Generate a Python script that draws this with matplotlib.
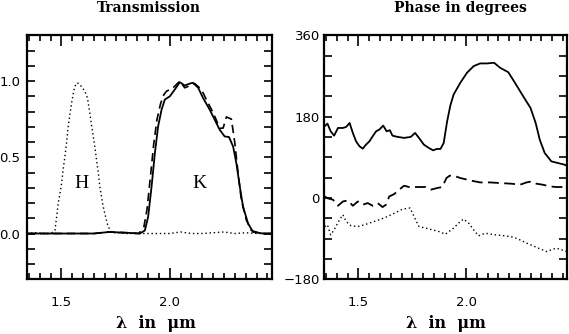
import numpy as np
import matplotlib.pyplot as plt
from matplotlib.ticker import MultipleLocator

# --- transmission (left panel) ---
h_wl = [1.34, 1.38, 1.42, 1.45, 1.470, 1.478, 1.485, 1.493, 1.501, 1.508, 1.516, 1.524, 1.531,
        1.539, 1.547, 1.555, 1.562, 1.573, 1.585, 1.597, 1.608, 1.620, 1.631, 1.639, 1.647,
        1.655, 1.662, 1.670, 1.677, 1.685, 1.693, 1.711, 1.727, 1.75, 1.80, 1.85, 1.90,
        1.95, 2.00, 2.05, 2.10, 2.15, 2.20, 2.25, 2.30, 2.35, 2.40, 2.47]
h_tr = [0.0, 0.005, 0.0, 0.0, 0.02, 0.11, 0.198, 0.26, 0.33, 0.42, 0.505, 0.60, 0.70,
        0.78, 0.857, 0.92, 0.966, 0.989, 0.978, 0.955, 0.934, 0.89, 0.79, 0.71, 0.637,
        0.56, 0.483, 0.40, 0.307, 0.24, 0.175, 0.066, 0.01, 0.005, 0.0, 0.0, 0.0,
        0.0, 0.0, 0.01, 0.0, 0.0, 0.005, 0.01, 0.0, 0.005, 0.0, 0.0]

k1_wl = [1.34, 1.50, 1.65, 1.72, 1.80, 1.862, 1.885, 1.900, 1.916, 1.931, 1.946, 1.962, 1.977,
         2.000, 2.023, 2.046, 2.069, 2.092, 2.107, 2.131, 2.153, 2.184, 2.207, 2.230, 2.253,
         2.273, 2.292, 2.307, 2.323, 2.338, 2.361, 2.384, 2.43, 2.47]
k1_tr = [0.0, 0.0, 0.0, 0.01, 0.005, 0.0, 0.02, 0.11, 0.31, 0.527, 0.703, 0.813, 0.879,
         0.90, 0.945, 0.993, 0.971, 0.984, 0.989, 0.956, 0.89, 0.813, 0.747, 0.681, 0.637,
         0.633, 0.571, 0.461, 0.307, 0.175, 0.066, 0.01, 0.0, 0.0]

k2_wl = [1.34, 1.50, 1.65, 1.72, 1.80, 1.857, 1.880, 1.895, 1.911, 1.926, 1.941, 1.957, 1.972,
         1.985, 2.015, 2.046, 2.069, 2.092, 2.115, 2.146, 2.168, 2.19, 2.21, 2.23, 2.246,
         2.261, 2.284, 2.300, 2.315, 2.330, 2.353, 2.376, 2.42, 2.47]
k2_tr = [0.0, 0.0, 0.0, 0.01, 0.005, 0.0, 0.04, 0.16, 0.38, 0.59, 0.75, 0.85, 0.91,
         0.934, 0.956, 1.0, 0.956, 0.97, 0.984, 0.945, 0.88, 0.82, 0.76, 0.69, 0.692,
         0.765, 0.751, 0.593, 0.395, 0.22, 0.088, 0.02, 0.0, 0.0]

# --- phase (right panel) ---
p1_wl = [1.343, 1.356, 1.371, 1.387, 1.405, 1.428, 1.443, 1.459, 1.474, 1.489, 1.505, 1.520,
         1.535, 1.551, 1.566, 1.582, 1.597, 1.615, 1.631, 1.646, 1.658, 1.682, 1.712, 1.743,
         1.763, 1.781, 1.804, 1.827, 1.847, 1.863, 1.881, 1.896, 1.912, 1.927, 1.942, 1.973,
         2.004, 2.035, 2.065, 2.096, 2.130, 2.158, 2.196, 2.227, 2.265, 2.299, 2.323, 2.342,
         2.365, 2.396, 2.426, 2.457, 2.475]
p1_ph = [158.7, 164.7, 147.6, 138, 155, 155, 157.3, 166, 144, 125.4, 114.3, 109.2,
         118, 125.4, 136.5, 147.6, 151.4, 160.2, 147.6, 150, 138, 135.2, 133, 135.2,
         144, 133, 118, 110.7, 105.4, 108.5, 108.5, 121.8, 170, 205, 229, 255,
         277.2, 291.9, 297.9, 297.9, 299.4, 288.3, 278.5, 255, 225.3, 199.5, 166.2, 129.2,
         99.6, 81, 77.4, 73.7, 70]

p2_wl = [1.343, 1.359, 1.382, 1.405, 1.428, 1.451, 1.474, 1.497, 1.520, 1.543, 1.566, 1.589,
         1.612, 1.628, 1.643, 1.666, 1.689, 1.712, 1.735, 1.758, 1.781, 1.812, 1.835, 1.866,
         1.889, 1.909, 1.924, 1.942, 1.973, 2.019, 2.065, 2.111, 2.158, 2.212, 2.250, 2.281,
         2.304, 2.327, 2.357, 2.388, 2.419, 2.449, 2.472]
p2_ph = [3.3, -1, -4, -17.3, -7.8, -5.5, -17.3, -7.8, -15, -11.3, -17.3, -11.3,
         -20.2, -15, 3.3, 8.6, 18.2, 27.1, 24.2, 24.2, 24.2, 24.2, 18.2, 22,
         24.2, 44.2, 49.3, 49.3, 44.2, 38.8, 34.4, 34.4, 33, 31.5, 29.3, 34.4,
         36.6, 31.5, 29.3, 25.6, 24.2, 24.2, 33]

p3_wl = [1.343, 1.356, 1.371, 1.387, 1.412, 1.428, 1.443, 1.466, 1.497, 1.528, 1.558, 1.597,
         1.635, 1.674, 1.705, 1.740, 1.758, 1.781, 1.812, 1.843, 1.873, 1.904, 1.942, 1.965,
         1.988, 2.012, 2.035, 2.058, 2.088, 2.135, 2.181, 2.219, 2.250, 2.281, 2.330, 2.373,
         2.419, 2.468]
p3_ph = [-63.3, -59.5, -81.7, -70.6, -48.4, -37.3, -52.2, -61.7, -63.3, -59.5, -54.4, -48.4,
         -41.1, -32.2, -24.7, -22.4, -41.1, -63.3, -66.8, -70.6, -74.3, -80.2, -66.8, -55.7,
         -46.8, -55.7, -70.6, -83.9, -78, -81.7, -83.9, -86.8, -92.8, -100, -110, -118.7,
         -111.2, -118.7]

tick_font = 'DejaVu Sans'
serif = 'DejaVu Serif'

fig = plt.figure(figsize=(5.69, 3.34), dpi=100)
ax1 = fig.add_axes([0.047, 0.164, 0.4305, 0.730])
ax2 = fig.add_axes([0.5694, 0.164, 0.4276, 0.730])

dot = (0, (1, 2))
dash = (0, (5, 3))

ax1.plot(h_wl, h_tr, color='black', lw=1.0, linestyle=dot)
ax1.plot(k2_wl, k2_tr, color='black', lw=1.2, linestyle=dash)
ax1.plot(k1_wl, k1_tr, color='black', lw=1.3)
ax1.text(1.594, 0.33, 'H', family='Liberation Serif', fontsize=14, ha='center', va='center')
ax1.text(2.138, 0.33, 'K', family='Liberation Serif', fontsize=14, ha='center', va='center')
ax1.set_ylim(-0.3, 1.3)
ax1.set_yticks([0.0, 0.5, 1.0])
ax1.set_yticklabels(['0.0', '0.5', '1.0'])
ax1.yaxis.set_minor_locator(MultipleLocator(0.1))

ax2.plot(p3_wl, p3_ph, color='black', lw=1.0, linestyle=dot)
ax2.plot(p2_wl, p2_ph, color='black', lw=1.3, linestyle=(0, (6, 3)))
ax2.plot(p1_wl, p1_ph, color='black', lw=1.3)
ax2.set_ylim(-180, 360)
ax2.set_yticks([-180, 0, 180, 360])
ax2.yaxis.set_minor_locator(MultipleLocator(45))

for ax in (ax1, ax2):
    ax.set_xlim(1.34, 2.47)
    ax.set_xticks([1.5, 2.0])
    ax.set_xticklabels(['1.5', '2.0'])
    ax.xaxis.set_minor_locator(MultipleLocator(0.05))
    ax.tick_params(which='both', direction='in', top=True, right=True, width=1.2,
                   labelsize=9.5)
    ax.tick_params(axis='x', which='major', length=8, pad=12)
    ax.tick_params(axis='x', which='minor', length=4)
    ax.tick_params(axis='y', which='both', length=6)
    for lab in ax.get_xticklabels() + ax.get_yticklabels():
        lab.set_family(tick_font)
    for sp in ax.spines.values():
        sp.set_linewidth(1.6)

ax1.tick_params(axis='y', pad=4.5)
ax2.tick_params(axis='y', pad=3)

ax1.set_title('Transmission', family=serif, fontweight='bold', fontsize=10, pad=17)
ax2.set_title('Phase in degrees', family=serif, fontweight='bold', fontsize=10, pad=17,
              x=0.559)
ax1.text(0.527, -0.148, 'λ  in  μm', transform=ax1.transAxes, family=serif,
         fontweight='bold', fontsize=11.5, ha='center', va='top')
ax2.text(0.5, -0.148, 'λ  in  μm', transform=ax2.transAxes, family=serif,
         fontweight='bold', fontsize=11.5, ha='center', va='top')

fig.savefig('out.png', dpi=100)
